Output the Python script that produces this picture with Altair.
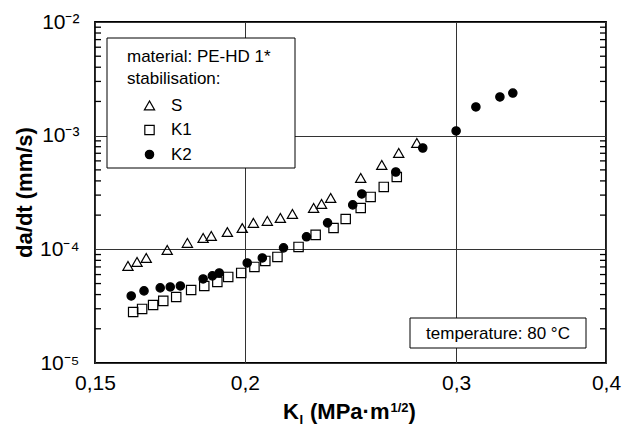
import altair as alt
import pandas as pd

FONT = "Liberation Sans, Arial, sans-serif"

# ---- data ----
series_names = ["S", "K1", "K2"]

S_K = [0.1598, 0.1626, 0.1655, 0.1723, 0.1791, 0.1846, 0.1875, 0.1934, 0.1990, 0.2033,
       0.2088, 0.2141, 0.2191, 0.2282, 0.2317, 0.2358, 0.2498, 0.2601, 0.2687, 0.2782]
S_rate = [7.14e-5, 7.74e-5, 8.40e-5, 9.88e-5, 1.14e-4, 1.26e-4, 1.31e-4, 1.42e-4, 1.54e-4, 1.71e-4,
          1.78e-4, 1.89e-4, 2.05e-4, 2.31e-4, 2.51e-4, 2.83e-4, 4.25e-4, 5.52e-4, 7.04e-4, 8.63e-4]

K1_K = [0.1614, 0.1642, 0.1677, 0.1710, 0.1753, 0.1804, 0.1850, 0.1897, 0.1937, 0.1986, 0.2037,
        0.2080, 0.2129, 0.2217, 0.2291, 0.2371, 0.2427, 0.2498, 0.2546, 0.2611, 0.2677]
K1_rate = [2.81e-5, 2.99e-5, 3.24e-5, 3.52e-5, 3.81e-5, 4.39e-5, 4.76e-5, 5.17e-5, 5.72e-5, 6.20e-5, 7.00e-5,
           7.91e-5, 8.57e-5, 1.05e-4, 1.34e-4, 1.54e-4, 1.85e-4, 2.31e-4, 2.89e-4, 3.54e-4, 4.33e-4]

K2_K = [0.1608, 0.1648, 0.1700, 0.1733, 0.1767, 0.1846, 0.1879, 0.1904, 0.2009, 0.2068, 0.2154,
        0.2251, 0.2344, 0.2460, 0.2503, 0.2672, 0.2814, 0.3000, 0.3116, 0.3263, 0.3345]
K2_rate = [3.89e-5, 4.31e-5, 4.58e-5, 4.67e-5, 4.76e-5, 5.49e-5, 5.84e-5, 6.20e-5, 7.59e-5, 8.40e-5, 1.03e-4,
           1.29e-4, 1.71e-4, 2.46e-4, 3.07e-4, 4.79e-4, 7.79e-4, 1.10e-3, 1.79e-3, 2.19e-3, 2.37e-3]

x_ticks = [0.15, 0.2, 0.3, 0.4]
y_decades = [1e-5, 1e-4, 1e-3, 1e-2]
y_minor = [k * 10.0 ** e for e in (-5, -4, -3) for k in range(2, 10)]

legend_title = ["material: PE-HD 1*", "stabilisation:"]
temperature_note = "temperature: 80 °C"

# ---- build tables ----
rows = []
for name, ks, rs in (("S", S_K, S_rate), ("K1", K1_K, K1_rate), ("K2", K2_K, K2_rate)):
    for k, r in zip(ks, rs):
        rows.append({"K": k, "rate": r, "series": name})
df = pd.DataFrame(rows)

X_MIN, X_MAX = 0.15, 0.4
left_tick_df = pd.DataFrame({"K": [X_MIN] * len(y_minor), "rate": y_minor})
right_tick_df = pd.DataFrame({"K": [X_MAX] * len(y_minor), "rate": y_minor})

W, H = 511, 341

xscale = alt.Scale(type="log", domain=[X_MIN, X_MAX], nice=False)
yscale = alt.Scale(type="log", domain=[1e-5, 1e-2], nice=False)

legend = alt.Legend(
    orient="none", legendX=32, legendY=27, title=legend_title,
    titleFontSize=17, titleFontWeight="normal", titleLineHeight=22, titleFont=FONT,
    titleColor="black", titlePadding=9, titleAnchor="start",
    labelFontSize=17, labelFont=FONT, labelColor="black",
    symbolOffset=14, labelOffset=13, rowPadding=6.5, padding=0,
    symbolStrokeColor="black", symbolStrokeWidth=1.2,
)

x_axis = alt.Axis(
    values=x_ticks, labelExpr="replace(toString(datum.value), '.', ',')", title=None,
    grid=True, gridColor="#333", gridWidth=1, ticks=False, domain=False, zindex=0,
    labelFontSize=21, labelFont=FONT, labelColor="black", labelPadding=9,
    labelFlush=False, labelOverlap=False, labelBound=False)
y_axis = alt.Axis(
    values=y_decades,
    labelExpr="datum.value < 5e-5 ? '10⁻⁵' : datum.value < 5e-4 ? '10⁻⁴' : datum.value < 5e-3 ? '10⁻³' : '10⁻²'",
    title="da/dt (mm/s)", titleFontSize=22, titleFontWeight="bold", titleFont=FONT,
    titleColor="black", titleAngle=270, titleX=-64, titleY=170, titleBaseline="alphabetic",
    titleAlign="center", zindex=0,
    grid=True, gridColor="#333", gridWidth=1, ticks=False, domain=False,
    labelFontSize=21, labelFont=FONT, labelColor="black", labelPadding=16,
    labelFlush=False, labelOverlap=False, labelBound=False)

points = alt.Chart(df).mark_point(filled=True, strokeWidth=1.2, opacity=1).encode(
    x=alt.X("K:Q", scale=xscale, axis=x_axis),
    y=alt.Y("rate:Q", scale=yscale, axis=y_axis),
    shape=alt.Shape("series:N", scale=alt.Scale(domain=series_names, range=["triangle-up", "square", "circle"]), legend=legend),
    fill=alt.Fill("series:N", scale=alt.Scale(domain=series_names, range=["rgba(0,0,0,0)", "rgba(0,0,0,0)", "black"]), legend=legend),
    stroke=alt.Stroke("series:N", scale=alt.Scale(domain=series_names, range=["black", "black", "black"]), legend=legend),
    size=alt.Size("series:N", scale=alt.Scale(domain=series_names, range=[105, 70, 85]), legend=legend),
)

# inward minor ticks on the left and right frame edges (short path symbols)
left_ticks = alt.Chart(left_tick_df).mark_point(
    shape="M0,0L1,0", size=144, filled=False, color="black", strokeWidth=1.3, opacity=1
).encode(
    x=alt.X("K:Q", scale=xscale, axis=x_axis),
    y=alt.Y("rate:Q", scale=yscale, axis=y_axis),
)
right_ticks = alt.Chart(right_tick_df).mark_point(
    shape="M0,0L-1,0", size=144, filled=False, color="black", strokeWidth=1.3, opacity=1
).encode(
    x=alt.X("K:Q", scale=xscale, axis=x_axis),
    y=alt.Y("rate:Q", scale=yscale, axis=y_axis),
)

one = pd.DataFrame({"a": [0]})
legend_box = alt.Chart(one).mark_rect(fill="white", stroke="black", strokeWidth=1).encode(
    x=alt.value(12), x2=alt.value(200), y=alt.value(16), y2=alt.value(146))
temp_box = alt.Chart(one).mark_rect(fill="white", stroke="black", strokeWidth=1).encode(
    x=alt.value(315), x2=alt.value(491), y=alt.value(296), y2=alt.value(326))
temp_text = alt.Chart(one).mark_text(text=temperature_note, font=FONT, fontSize=17, color="black",
                                     align="center", baseline="middle").encode(
    x=alt.value(403), y=alt.value(311.5))

# x-axis title with subscript / superscript pieces
def piece(txt, x, y, size, align="left"):
    return alt.Chart(one).mark_text(text=txt, font=FONT, fontSize=size, fontWeight="bold",
                                    color="black", align=align, baseline="alphabetic").encode(
        x=alt.value(x), y=alt.value(y))

xt = [
    piece("K", 188, 397, 22),
    piece("I", 204.5, 402, 13),
    piece("(MPa·m", 215, 397, 22),
    piece("1/2", 295.5, 390, 13),
    piece(")", 313.5, 397, 22),
]

chart = alt.layer(legend_box, temp_box, temp_text, points, left_ticks, right_ticks, *xt).properties(
    width=W, height=H, autosize="none",
    padding={"left": 95, "top": 22, "right": 19, "bottom": 64},
    background="white",
).configure_view(stroke="black", strokeWidth=1.8)

chart.save("out.html", embed_options={"renderer": "svg", "actions": False})
